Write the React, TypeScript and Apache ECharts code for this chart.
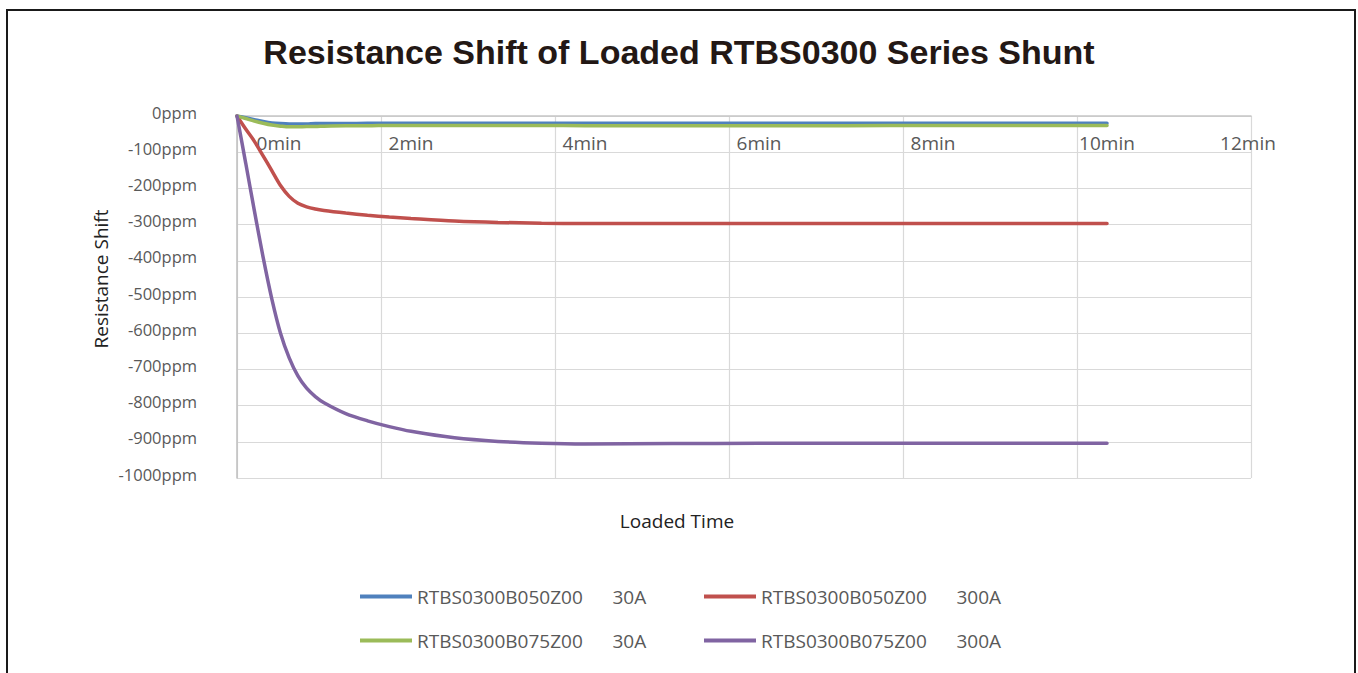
import React, { useEffect, useRef } from "react";
import * as echarts from "echarts";

// ---- data (minutes, ppm) ----
const times = [0, 0.1, 0.2, 0.3, 0.4, 0.5, 0.6, 0.7, 0.8, 0.9, 1, 1.25, 1.5, 1.75, 2, 2.5, 3, 3.5, 4, 5, 6, 7, 8, 9, 10];
const b050_30A = [0, -5, -10, -15, -19, -21, -22, -22, -22, -21, -21, -21, -20, -20, -20, -20, -20, -20, -20, -20, -20, -20, -20, -20, -20];
const b050_300A = [0, -36, -70, -110, -151, -192, -222, -241, -251, -257, -261, -268, -274, -279, -283, -290, -294, -296, -297, -297, -297, -297, -297, -297, -297];
const b075_30A = [0, -7, -14, -20, -25, -28, -30, -30, -29, -29, -28, -27, -27, -26, -26, -26, -26, -26, -27, -27, -27, -27, -26, -26, -26];
const b075_300A = [0, -130, -262, -390, -505, -600, -668, -718, -752, -775, -792, -822, -842, -858, -871, -889, -899, -904, -906, -905, -904, -904, -904, -904, -904];

const seriesNames = [
  "RTBS0300B050Z00\u00a0\u00a0\u00a0\u00a0\u00a0\u00a030A",
  "RTBS0300B050Z00\u00a0\u00a0\u00a0\u00a0\u00a0\u00a0300A",
  "RTBS0300B075Z00\u00a0\u00a0\u00a0\u00a0\u00a0\u00a030A",
  "RTBS0300B075Z00\u00a0\u00a0\u00a0\u00a0\u00a0\u00a0300A",
];
const seriesValues = [b050_30A, b050_300A, b075_30A, b075_300A];
const xTickLabels = ["0min", "2min", "4min", "6min", "8min", "10min", "12min"];
const yUnit = "ppm";

// ---- layout / style ----
const xLabelPos = [0.483, 2, 4, 6, 8, 10, 11.62];
const colors = ["#4F81BD", "#C0504D", "#9BBB59", "#8064A2"];
const legendLeft = [360, 704, 360, 704];
const legendTop = [587, 587, 631, 631];
const FONT = "'Open Sans', 'Noto Sans', sans-serif";

export default function App() {
  const ref = useRef<HTMLDivElement>(null);
  useEffect(() => {
    if (!ref.current) return;
    const chart = echarts.init(ref.current, undefined, { renderer: "svg" });
    const option: any = {
      animation: false,
      backgroundColor: "#ffffff",
      title: {
        text: "Resistance Shift of Loaded RTBS0300 Series Shunt",
        left: "center",
        top: 35,
        padding: 0,
        textStyle: {
          fontFamily: "'Liberation Sans', Arial, sans-serif",
          fontSize: 34,
          fontWeight: "bold",
          color: "#231815",
        },
      },
      graphic: [
        {
          type: "rect",
          shape: { x: 7, y: 10, width: 1348, height: 700 },
          style: { fill: "none", stroke: "#1a1a1a", lineWidth: 2 },
          silent: true,
        },
        {
          type: "text",
          x: 101,
          y: 279,
          rotation: Math.PI / 2,
          style: {
            text: "Resistance Shift",
            fontSize: 19,
            fontFamily: FONT,
            fill: "#222222",
            align: "center",
            verticalAlign: "middle",
          },
        },
        {
          type: "text",
          x: 677,
          y: 521,
          style: {
            text: "Loaded Time",
            fontSize: 19,
            fontFamily: FONT,
            fill: "#222222",
            align: "center",
            verticalAlign: "middle",
          },
        },
      ],
      legend: seriesNames.map((n, i) => ({
        data: [n],
        left: legendLeft[i],
        top: legendTop[i],
        padding: 0,
        icon: "rect",
        itemWidth: 52,
        itemHeight: 4,
        selectedMode: false,
        textStyle: { fontFamily: FONT, fontSize: 19, color: "#595959" },
      })),
      grid: { left: 237, top: 116, width: 1014, height: 362 },
      xAxis: [
        {
          type: "value",
          min: 0,
          max: 11.655,
          position: "top",
          axisLine: { show: true, onZero: false, lineStyle: { color: "#c6c6c6", width: 1.5 } },
          axisTick: { show: false },
          splitLine: { show: false },
          axisLabel: {
            inside: true,
            margin: 17,
            customValues: xLabelPos,
            formatter: (v: number) => {
              let j = 0;
              let best = Infinity;
              xLabelPos.forEach((p, k) => {
                const d = Math.abs(p - v);
                if (d < best) { best = d; j = k; }
              });
              return xTickLabels[j];
            },
            color: "#595959",
            fontSize: 19,
            fontFamily: FONT,
          },
        },
        {
          type: "value",
          min: 0.345,
          max: 12,
          position: "bottom",
          axisLine: { show: false, onZero: false },
          axisTick: { show: false },
          axisLabel: { show: false },
          splitLine: { show: true, lineStyle: { color: "#d9d9d9", width: 1.2 } },
        },
      ],
      yAxis: {
        type: "value",
        min: -1000,
        max: 0,
        interval: 100,
        axisLine: { show: true, onZero: false, lineStyle: { color: "#bfbfbf", width: 1.5 } },
        axisTick: { show: false },
        splitLine: { show: true, lineStyle: { color: "#d9d9d9", width: 1.2 } },
        axisLabel: {
          margin: 40,
          formatter: (v: number) => `${v}${yUnit}`,
          color: "#595959",
          fontSize: 16.5,
          fontFamily: FONT,
          verticalAlign: "bottom",
          lineHeight: 8,
        },
      },
      series: seriesNames.map((n, i) => ({
        name: n,
        type: "line",
        xAxisIndex: 0,
        symbol: "none",
        smooth: 0.3,
        lineStyle: { width: 3.5, color: colors[i], cap: "round" },
        itemStyle: { color: colors[i] },
        data: times.map((t, k) => [t, seriesValues[i][k]]),
      })),
    };
    chart.setOption(option);
    return () => chart.dispose();
  }, []);
  return (
    <div
      ref={ref}
      style={{ position: "fixed", left: 0, top: 0, width: "1358px", height: "673px" }}
    />
  );
}
